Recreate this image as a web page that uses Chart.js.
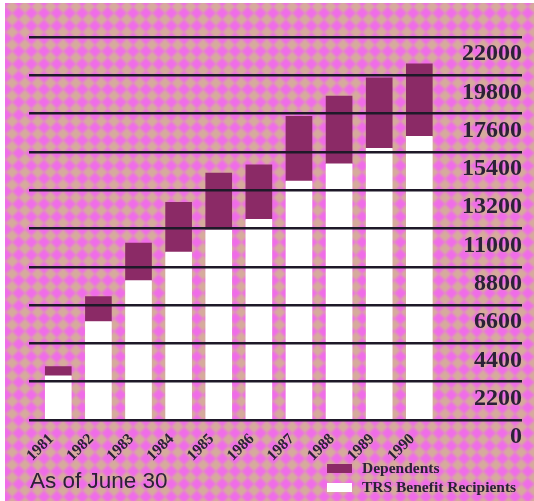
<!DOCTYPE html>
<html>
<head>
<meta charset="utf-8">
<script src="https://cdn.jsdelivr.net/npm/chart.js@4.4.1/dist/chart.umd.min.js"></script>
<style>
  html, body { margin: 0; padding: 0; width: 534px; height: 501px; overflow: hidden; background: #fff; }
  #wrap { position: relative; width: 534px; height: 501px; }
  /* pink halftone paper */
  #bg { position: absolute; left: 5px; top: 3px; right: 0; bottom: 0; overflow: hidden; }
  #bg::before {
    content: ""; position: absolute; left: -400px; top: -400px; width: 1400px; height: 1400px;
    background: repeating-conic-gradient(#f06ce8 0 25%, #d6ab9c 0 50%) 0 0 / 18px 18px;
    transform: rotate(45deg); filter: blur(1.1px);
  }
  canvas { position: absolute; left: 0; top: 0; }
  .caption { position: absolute; left: 30px; top: 470px; font: 22.5px/22.5px "Liberation Sans", sans-serif; color: #2b2236; white-space: nowrap; }
  .legend { position: absolute; left: 327px; top: 458.5px; font: bold 15.5px "Liberation Serif", serif; color: #2b2236; }
  .legend .row { display: flex; align-items: center; height: 19px; white-space: nowrap; }
  .legend .box { width: 25px; height: 9px; margin-right: 10px; }
</style>
</head>
<body>
<div id="wrap">
  <div id="bg"></div>
  <canvas id="c" width="534" height="501"></canvas>
  <div class="caption" id="caption"></div>
  <div class="legend" id="legend"></div>
</div>
<script>
// Fiscal years (as of June 30)
const years = ['1981', '1982', '1983', '1984', '1985', '1986', '1987', '1988', '1989', '1990'];
// TRS benefit recipients
const recipients = [2540, 5660, 8010, 9640, 10930, 11520, 13720, 14720, 15610, 16290];
// Dependents receiving benefits
const dependents = [530, 1430, 2150, 2870, 3250, 3140, 3730, 3880, 4050, 4170];
// Value axis ticks
const yTicks = [0, 2200, 4400, 6600, 8800, 11000, 13200, 15400, 17600, 19800, 22000];

const seriesNames = ['TRS Benefit Recipients', 'Dependents'];
const seriesColors = ['#ffffff', '#8b2a66'];
const captionText = 'As of June 30';

const inkColor = '#2b2236';

const toPoints = (vals) => vals.map((v, i) => ({ x: Number(years[i]), y: v }));

const chart = new Chart(document.getElementById('c'), {
  type: 'bar',
  data: {
    datasets: [
      { label: seriesNames[0], data: toPoints(recipients), backgroundColor: seriesColors[0], barThickness: 26 },
      { label: seriesNames[1], data: toPoints(dependents), backgroundColor: seriesColors[1], barThickness: 26 }
    ]
  },
  options: {
    responsive: false,
    animation: false,
    layout: { padding: { left: 29, right: 12, top: 37, bottom: 0 } },
    plugins: { legend: { display: false }, tooltip: { enabled: false } },
    scales: {
      x: {
        type: 'linear',
        stacked: true,
        offset: false,
        min: 1980.27,
        max: 1992.56,
        grid: { display: false },
        border: { display: false },
        afterBuildTicks: (s) => { s.ticks = years.map((y) => ({ value: Number(y) })); },
        afterFit: (s) => { s.height = 81; },
        ticks: {
          autoSkip: false,
          minRotation: 45,
          maxRotation: 45,
          padding: 2,
          labelOffset: -7,
          color: inkColor,
          font: { family: '"Liberation Serif", serif', size: 15.5, weight: 'bold' },
          callback: (v) => String(v)
        }
      },
      y: {
        type: 'linear',
        position: 'right',
        stacked: true,
        min: yTicks[0],
        max: yTicks[yTicks.length - 1],
        afterBuildTicks: (s) => { s.ticks = yTicks.map((v) => ({ value: v })); },
        afterFit: (s) => { s.width = 0; },
        border: { display: false },
        grid: { color: '#1e1928', lineWidth: 2.5, drawTicks: false, z: 1 },
        ticks: {
          mirror: true,
          padding: 0,
          labelOffset: 17,
          color: inkColor,
          font: { family: '"Liberation Serif", serif', size: 24, weight: 'bold' },
          callback: (v) => String(v)
        }
      }
    }
  }
});

// caption and legend (Dependents listed first)
document.getElementById('caption').textContent = captionText;
const legend = document.getElementById('legend');
[1, 0].forEach((k) => {
  const row = document.createElement('div');
  row.className = 'row';
  const box = document.createElement('span');
  box.className = 'box';
  box.style.background = seriesColors[k];
  const txt = document.createElement('span');
  txt.textContent = seriesNames[k];
  row.appendChild(box);
  row.appendChild(txt);
  legend.appendChild(row);
});
</script>
</body>
</html>
